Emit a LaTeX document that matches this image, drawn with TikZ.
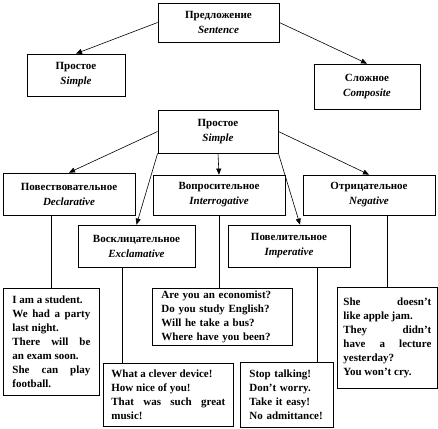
\documentclass[tikz,border=0pt]{standalone}
\usepackage{fontspec}
\setmainfont{Liberation Serif}
\usetikzlibrary{arrows.meta,positioning,calc}
\setlength{\parindent}{0pt}

\begin{document}
\begin{tikzpicture}[x=1pt, y=-1pt, >={Triangle[length=6pt,width=5pt]},
  b/.style={draw, line width=0.8pt, align=center, inner sep=0pt,
            font=\fontsize{11}{15}\selectfont\bfseries},
  ex/.style={draw, line width=0.8pt, anchor=north west, inner ysep=0pt,
             font=\fontsize{11}{14}\selectfont\bfseries},
  ln/.style={line width=0.6pt}]
\useasboundingbox (0,0) rectangle (438,428);
% top level
\node[b, minimum width=121, minimum height=39] (sent) at (218.5,22.5) {Предложение\\\textit{Sentence}};
\node[b, minimum width=98, minimum height=42] (simp) at (76,75) {Простое\\\textit{Simple}};
\node[b, minimum width=106, minimum height=45] (comp) at (367,86.5) {Сложное\\\textit{Composite}};
\draw[ln,->] (sent.west) -- (simp.north);
\draw[ln,->] (sent.east) -- (comp.north);
% kinds of simple sentence
\node[b, minimum width=120, minimum height=43] (simple) at (218,131.5) {Простое\\\textit{Simple}};
\node[b, minimum width=132, minimum height=42] (decl) at (69,194) {Повествовательное\\\textit{Declarative}};
\node[b, minimum width=132, minimum height=40] (inter) at (219,195) {Вопросительное\\\textit{Interrogative}};
\node[b, minimum width=132, minimum height=40] (neg) at (369,195) {Отрицательное\\\textit{Negative}};
\node[b, minimum width=117, minimum height=42] (excl) at (136.5,246) {Восклицательное\\\textit{Exclamative}};
\node[b, minimum width=122, minimum height=42] (imp) at (289,246) {Повелительное\\\textit{Imperative}};
\draw[ln,->] (simple.west) -- (decl.north);
\draw[ln,->] (simple.east) -- (neg.north);
\draw[ln,->] (simple.south) -- (inter.north);
\draw[ln,->] (simple.south west) -- (excl.north);
\draw[ln,->] (simple.south east) -- ([xshift=11pt]imp.north);
% examples
\node[ex, align=justify, text width=78, inner xsep=9pt, minimum height=107] (declex) at (3,288)
  {I am a student.\par We had a party\linebreak last night.\par There will be\linebreak an exam soon.\par She can play\linebreak football.};
\node[ex, align=left, text width=122, inner xsep=9pt, minimum height=57] (interex) at (152,288)
  {Are you an economist?\\Do you study English?\\Will he take a bus?\\Where have you been?};
\node[ex, align=justify, text width=88, inner xsep=6pt, minimum height=101] (negex) at (337,287)
  {She doesn’t\linebreak like apple jam.\par They didn’t\linebreak have a lecture\linebreak yesterday?\par You won’t cry.};
\node[ex, align=justify, text width=114, inner xsep=8pt, minimum height=63] (exclex) at (103,363)
  {What a clever device!\par How nice of you!\par That was such great\linebreak music!};
\node[ex, align=left, text width=75, inner xsep=9pt, minimum height=65] (impex) at (240,362)
  {Stop talking!\\Don’t worry.\\Take it easy!\\No admittance!};
\draw[ln] (declex.north |- decl.south) -- (declex.north);
\draw[ln] ([xshift=-14.5pt]excl.south) -- ([xshift=-14.5pt]excl.south |- exclex.north);
\draw[ln] (inter.south) -- (inter.south |- interex.north);
\draw[ln] ([xshift=28pt]imp.south) -- ([xshift=28pt]imp.south |- impex.north);
\draw[ln] (negex.north |- neg.south) -- (negex.north);
\end{tikzpicture}
\end{document}
